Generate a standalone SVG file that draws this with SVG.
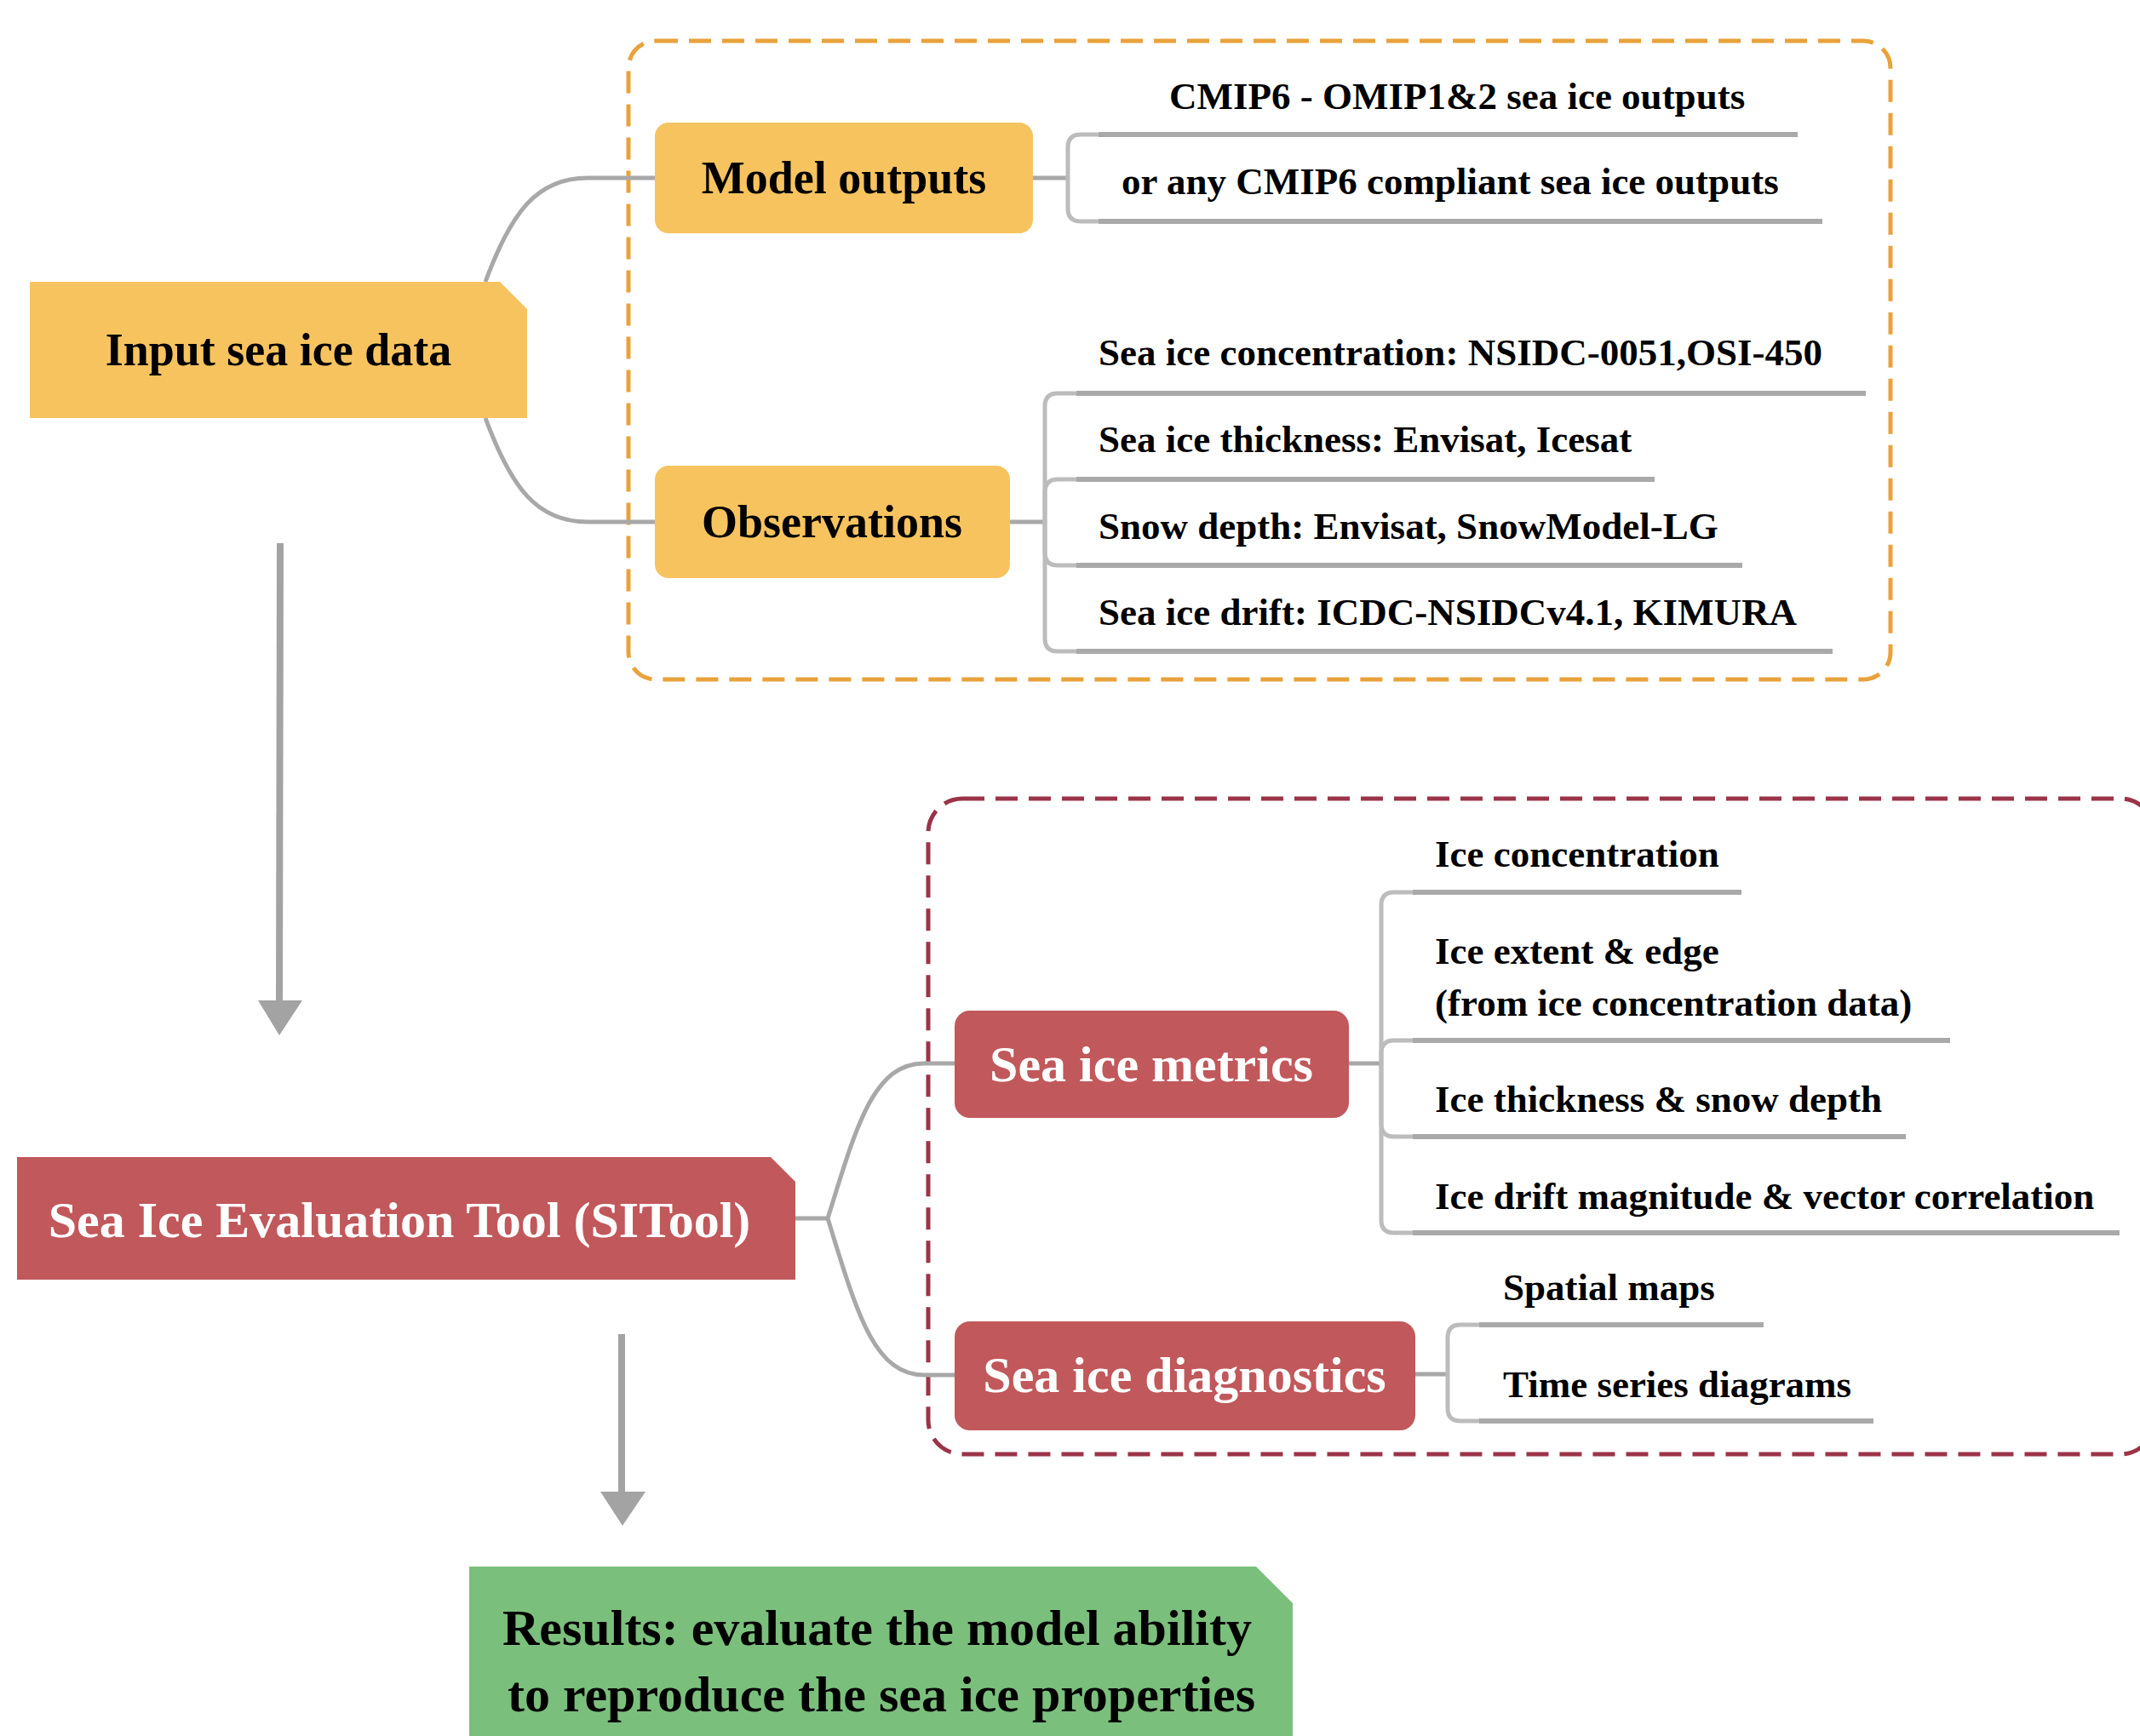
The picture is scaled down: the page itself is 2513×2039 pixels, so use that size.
<svg xmlns="http://www.w3.org/2000/svg" width="2513" height="2039" viewBox="0 0 2513 2039">
<style>
.lbl{font-family:"Liberation Serif","Times New Roman",serif;font-weight:bold;}
.big{font-size:54px;fill:#000;text-anchor:middle;}
.red{font-size:60px;fill:#fff;text-anchor:middle;}
.res{font-size:60px;fill:#000;text-anchor:middle;}
.sm{font-size:45px;fill:#000;}
.stem{fill:none;stroke:#bcbcbc;stroke-width:5;}
.ul{fill:none;stroke:#a9a9a9;stroke-width:6;}
.conn{fill:none;stroke:#a8a8a8;stroke-width:5;}
.arrow{stroke:#a3a3a3;stroke-width:8;fill:none;}
.ahead{fill:#a3a3a3;}
</style>
<rect x="0" y="0" width="2513" height="2039" fill="#fff"/>

<!-- group frames -->
<g id="group-input">
<rect x="738" y="48" width="1482" height="750" rx="32" fill="none" stroke="#E9A23B" stroke-width="5" stroke-dasharray="26 13"/>
</g>
<g id="group-sitool">
<rect x="1090" y="938" width="1440" height="770" rx="40" fill="none" stroke="#9B3448" stroke-width="5" stroke-dasharray="26 13"/>
</g>

<!-- connectors -->
<g id="connectors">
<path class="conn" d="M570,331 C600,250 630,209 690,209 L769,209"/>
<path class="conn" d="M570,491 C600,572 630,613 690,613 L769,613"/>
<path class="conn" d="M934,1431 L972,1431 C1005,1325 1025,1249 1085,1249 L1121,1249"/>
<path class="conn" d="M972,1431 C1005,1537 1025,1615 1085,1615 L1121,1615"/>

<!-- model bracket -->
<path class="conn" d="M1213,209 L1254,209"/>
<path class="stem" d="M1254,209 L1254,173 Q1254,158 1269,158 L1292,158"/>
<path class="stem" d="M1254,209 L1254,245 Q1254,260 1269,260 L1292,260"/>
<path class="ul" d="M1290,158 L2111,158"/>
<path class="ul" d="M1290,260 L2140,260"/>

<!-- observations bracket -->
<path class="conn" d="M1186,613 L1227,613"/>
<path class="stem" d="M1227,613 L1227,477 Q1227,462 1242,462 L1266,462"/>
<path class="stem" d="M1227,613 L1227,578 Q1227,563 1242,563 L1266,563"/>
<path class="stem" d="M1227,613 L1227,649 Q1227,664 1242,664 L1266,664"/>
<path class="stem" d="M1227,613 L1227,750 Q1227,765 1242,765 L1266,765"/>
<path class="ul" d="M1264,462 L2191,462"/>
<path class="ul" d="M1264,563 L1943,563"/>
<path class="ul" d="M1264,664 L2046,664"/>
<path class="ul" d="M1264,765 L2152,765"/>

<!-- metrics bracket -->
<path class="conn" d="M1584,1249 L1622,1249"/>
<path class="stem" d="M1622,1249 L1622,1063 Q1622,1048 1637,1048 L1661,1048"/>
<path class="stem" d="M1622,1249 L1622,1237 Q1622,1222 1637,1222 L1661,1222"/>
<path class="stem" d="M1622,1249 L1622,1320 Q1622,1335 1637,1335 L1661,1335"/>
<path class="stem" d="M1622,1249 L1622,1433 Q1622,1448 1637,1448 L1661,1448"/>
<path class="ul" d="M1659,1048 L2045,1048"/>
<path class="ul" d="M1659,1222 L2290,1222"/>
<path class="ul" d="M1659,1335 L2238,1335"/>
<path class="ul" d="M1659,1448 L2489,1448"/>

<!-- diagnostics bracket -->
<path class="conn" d="M1662,1614 L1700,1614"/>
<path class="stem" d="M1700,1614 L1700,1571 Q1700,1556 1715,1556 L1739,1556"/>
<path class="stem" d="M1700,1614 L1700,1654 Q1700,1669 1715,1669 L1739,1669"/>
<path class="ul" d="M1737,1556 L2071,1556"/>
<path class="ul" d="M1737,1669 L2200,1669"/>

<!-- flow arrows -->
<path class="arrow" d="M329,638 L328,1180"/>
<path class="ahead" d="M303,1175 L355,1175 L328,1216 Z"/>
<path class="arrow" d="M730,1567 L730,1756"/>
<path class="ahead" d="M705,1752 L758,1752 L731,1792 Z"/>
</g>

<!-- nodes -->
<g id="node-input">
<path d="M35,331 L587,331 L619,363 L619,491 L35,491 Z" fill="#F7C35F"/>
<text class="lbl big" x="327" y="429">Input sea ice data</text>
</g>
<g id="node-model">
<rect x="769" y="144" width="444" height="130" rx="16" fill="#F7C35F"/>
<text class="lbl big" x="991" y="227">Model outputs</text>
</g>
<g id="node-obs">
<rect x="769" y="547" width="417" height="132" rx="16" fill="#F7C35F"/>
<text class="lbl big" x="977" y="631">Observations</text>
</g>
<g id="leaves-model">
<text class="lbl sm" x="1373" y="128">CMIP6 - OMIP1&amp;2 sea ice outputs</text>
<text class="lbl sm" x="1317" y="228">or any CMIP6 compliant sea ice outputs</text>
</g>
<g id="leaves-obs">
<text class="lbl sm" x="1290" y="429">Sea ice concentration: NSIDC-0051,OSI-450</text>
<text class="lbl sm" x="1290" y="531">Sea ice thickness: Envisat, Icesat</text>
<text class="lbl sm" x="1290" y="633">Snow depth: Envisat, SnowModel-LG</text>
<text class="lbl sm" x="1290" y="734">Sea ice drift: ICDC-NSIDCv4.1, KIMURA</text>
</g>
<g id="node-sitool">
<path d="M20,1359 L905,1359 L934,1388 L934,1503 L20,1503 Z" fill="#C1585B"/>
<text class="lbl red" x="469" y="1453">Sea Ice Evaluation Tool (SITool)</text>
</g>
<g id="node-metrics">
<rect x="1121" y="1187" width="463" height="126" rx="18" fill="#C1585B"/>
<text class="lbl red" x="1352" y="1270">Sea ice metrics</text>
</g>
<g id="node-diagnostics">
<rect x="1121" y="1552" width="541" height="128" rx="18" fill="#C1585B"/>
<text class="lbl red" x="1391" y="1635">Sea ice diagnostics</text>
</g>
<g id="leaves-metrics">
<text class="lbl sm" x="1685" y="1018">Ice concentration</text>
<text class="lbl sm" x="1685" y="1132">Ice extent &amp; edge</text>
<text class="lbl sm" x="1685" y="1193">(from ice concentration data)</text>
<text class="lbl sm" x="1685" y="1306">Ice thickness &amp; snow depth</text>
<text class="lbl sm" x="1685" y="1420">Ice drift magnitude &amp; vector correlation</text>
</g>
<g id="leaves-diagnostics">
<text class="lbl sm" x="1765" y="1527">Spatial maps</text>
<text class="lbl sm" x="1765" y="1641">Time series diagrams</text>
</g>
<g id="node-results">
<path d="M551,1840 L1475,1840 L1518,1883 L1518,2039 L551,2039 Z" fill="#7BBF7C"/>
<text class="lbl res" x="1030" y="1932">Results: evaluate the model ability</text>
<text class="lbl res" x="1035" y="2010">to reproduce the sea ice properties</text>
</g>
</svg>
